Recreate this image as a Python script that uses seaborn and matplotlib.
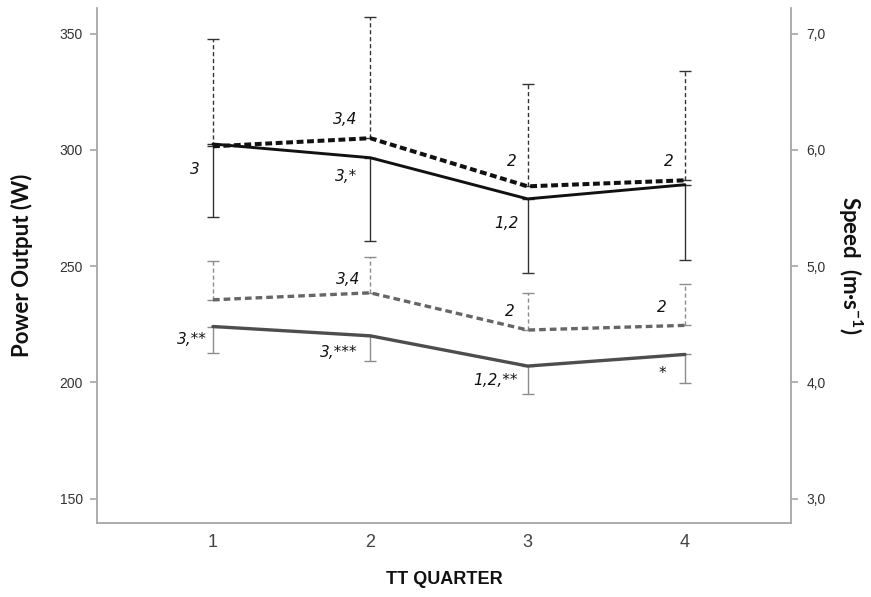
import numpy as np
import pandas as pd
import matplotlib
matplotlib.use("Agg")
import matplotlib.pyplot as plt
import seaborn as sns

# ---- data -------------------------------------------------------------
quarters = [1, 2, 3, 4]
quarter_labels = ["1", "2", "3", "4"]

# Power output (W), mean and SD per TT quarter
power_solid = [302.5, 296.6, 278.9, 285.0]
power_solid_sd = [31.6, 35.7, 32.0, 32.3]
power_dashed = [301.5, 305.0, 284.3, 286.9]
power_dashed_sd = [46.3, 52.3, 44.1, 47.2]

# Speed (m/s), mean and SD per TT quarter
speed_solid = [4.48, 4.40, 4.14, 4.24]
speed_solid_sd = [0.23, 0.22, 0.24, 0.25]
speed_dashed = [4.71, 4.77, 4.45, 4.49]
speed_dashed_sd = [0.33, 0.31, 0.32, 0.36]

power_ticks = [150, 200, 250, 300, 350]
speed_ticks = [3.0, 4.0, 5.0, 6.0, 7.0]
speed_tick_labels = ["3,0", "4,0", "5,0", "6,0", "7,0"]

# significance labels: (text, quarter, series, dx px, dy px)
power_notes = [
    ("3", 1, "solid", -13, -25),
    ("3,4", 2, "dashed", -13, 19),
    ("3,*", 2, "solid", -13, -19),
    ("2", 3, "dashed", -11, 25),
    ("1,2", 3, "solid", -9, -25),
    ("2", 4, "dashed", -11, 19),
]
speed_notes = [
    ("3,4", 2, "dashed", -10, 13),
    ("2", 3, "dashed", -13, 19),
    ("2", 4, "dashed", -18, 18),
    ("3,**", 1, "solid", -6, -13),
    ("3,***", 2, "solid", -13, -17),
    ("1,2,**", 3, "solid", -10, -14),
    ("*", 4, "solid", -19, -19),
]

# ---- style ------------------------------------------------------------
sns.set_theme(style="white")
plt.rcParams["font.family"] = ["DejaVu Sans"]
plt.rcParams["mathtext.fontset"] = "custom"
plt.rcParams["mathtext.rm"] = "Lato:bold"
plt.rcParams["mathtext.bf"] = "Lato:bold"

spine_col = "#a6a6a6"
black = "#111111"
dgray = "#4d4d4d"
mgray = "#666666"
barblack = "#333333"
bargray = "#8c8c8c"

fig = plt.figure(figsize=(8.71, 5.97), dpi=100)
ax = fig.add_axes([97 / 871, 1 - 523 / 597, (791 - 97) / 871, (523 - 8) / 597])
ax2 = ax.twinx()

ylo, yhi = 139.5, 361.0
ax.set_ylim(ylo, yhi)
ax2.set_ylim(3 + (ylo - 150) / 50, 3 + (yhi - 150) / 50)
ax.set_xlim(0.263, 4.674)

df_power = pd.DataFrame({"quarter": quarters, "solid": power_solid, "dashed": power_dashed})
df_speed = pd.DataFrame({"quarter": quarters, "solid": speed_solid, "dashed": speed_dashed})


def upper_bars(axis, y, sd, color, dashed):
    eb = axis.errorbar(quarters, y, yerr=[[0] * len(sd), sd], fmt="none",
                       ecolor=color, elinewidth=1.0, capsize=4.3, capthick=1.0, zorder=2)
    if dashed:
        eb[2][0].set_linestyle((0, (3, 2)))


def lower_bars(axis, y, sd, color):
    axis.errorbar(quarters, y, yerr=[sd, [0] * len(sd)], fmt="none",
                  ecolor=color, elinewidth=1.0, capsize=4.3, capthick=1.0, zorder=2)


# power: upper bars for dashed, lower bars for solid
upper_bars(ax, power_dashed, power_dashed_sd, barblack, True)
lower_bars(ax, power_solid, power_solid_sd, barblack)
upper_bars(ax2, speed_dashed, speed_dashed_sd, bargray, True)
lower_bars(ax2, speed_solid, speed_solid_sd, bargray)

sns.lineplot(data=df_power, x="quarter", y="solid", ax=ax, color=black, lw=2.1, zorder=4)
sns.lineplot(data=df_power, x="quarter", y="dashed", ax=ax, color=black, lw=2.9,
             dashes=False, zorder=4).lines[-1].set_dashes((1.7, 0.9))
sns.lineplot(data=df_speed, x="quarter", y="solid", ax=ax2, color=dgray, lw=2.4, zorder=4)
sns.lineplot(data=df_speed, x="quarter", y="dashed", ax=ax2, color=mgray, lw=2.4,
             dashes=False, zorder=4).lines[-1].set_dashes((2.0, 1.2))

# significance labels
lookup_p = {"solid": power_solid, "dashed": power_dashed}
lookup_s = {"solid": speed_solid, "dashed": speed_dashed}
for txt, q, s, dx, dy in power_notes:
    ax.annotate(txt, (q, lookup_p[s][q - 1]), xytext=(dx, dy), textcoords="offset pixels",
                ha="right", va="center", fontsize=11, style="italic", color="#111111", zorder=5)
for txt, q, s, dx, dy in speed_notes:
    ax2.annotate(txt, (q, lookup_s[s][q - 1]), xytext=(dx, dy), textcoords="offset pixels",
                 ha="right", va="center", fontsize=11, style="italic", color="#111111", zorder=5)

# axes styling
for a in (ax, ax2):
    for sp in a.spines.values():
        sp.set_color(spine_col)
        sp.set_linewidth(1.3)
    a.spines["top"].set_visible(False)
ax.spines["right"].set_visible(False)
ax2.spines["left"].set_visible(False)
ax2.spines["bottom"].set_visible(False)

ax.set_xticks(quarters)
ax.set_xticklabels(quarter_labels, fontsize=13, color="#444444", family="Liberation Sans")
ax.tick_params(axis="x", length=0, pad=8)
ax.set_yticks(power_ticks)
ax.set_yticklabels([str(t) for t in power_ticks], fontsize=10, color="#333333",
                   family="Liberation Sans")
ax.tick_params(axis="y", length=5, width=1.2, color=spine_col, pad=5, left=True, direction="out")
ax2.set_yticks(speed_ticks)
ax2.set_yticklabels(speed_tick_labels, fontsize=10, color="#333333", family="Liberation Sans")
ax2.tick_params(axis="y", length=5, width=1.2, color=spine_col, pad=6, right=True, direction="out")

ax.set_xlabel("TT QUARTER", fontsize=13, fontweight="bold", family="Liberation Sans",
              color="#111111", labelpad=14)
ax.set_ylabel("Power Output (W)", fontsize=16, fontweight="bold", family="Lato",
              color="#111111", labelpad=19)
ax2.set_ylabel("Speed  (m·s$^{\\mathbf{-1}}$)", fontsize=16, fontweight="bold", family="Lato",
               color="#111111", rotation=270, labelpad=28)
ax.grid(False)
ax2.grid(False)

fig.savefig("out.png", dpi=100)
